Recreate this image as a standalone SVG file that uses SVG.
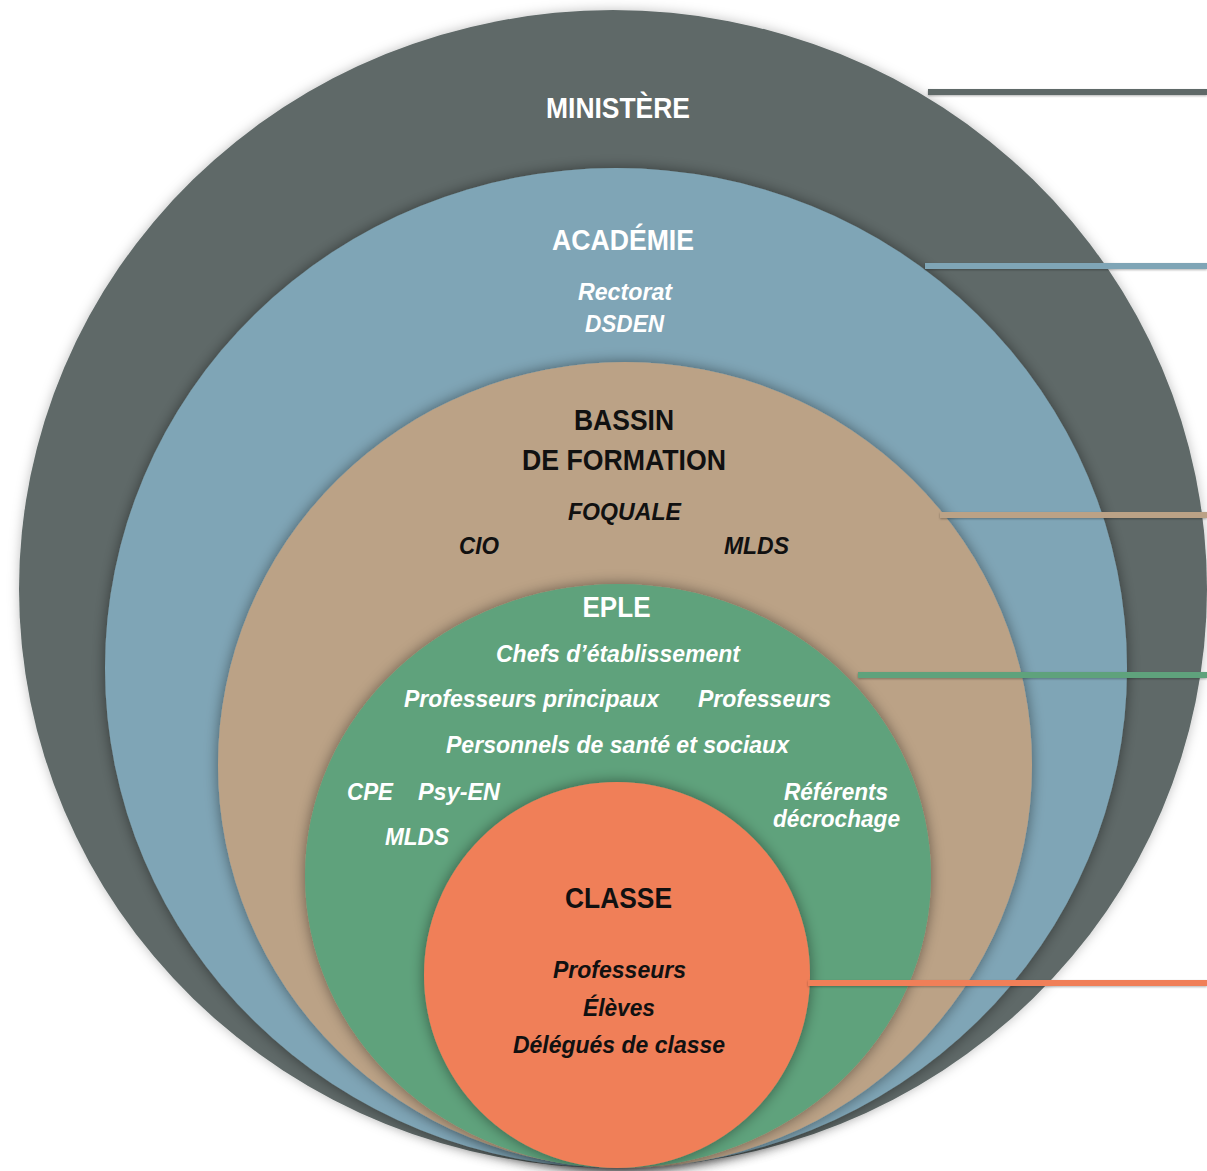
<svg xmlns="http://www.w3.org/2000/svg" width="1207" height="1171" viewBox="0 0 1207 1171">
<defs>
<filter id="sh" x="-10%" y="-10%" width="120%" height="120%">
<feDropShadow dx="0" dy="0" stdDeviation="7" flood-color="#000" flood-opacity="0.45"/>
</filter>
<filter id="sho" x="-10%" y="-10%" width="120%" height="120%">
<feDropShadow dx="0" dy="0" stdDeviation="6" flood-color="#000" flood-opacity="0.25"/>
</filter>
<filter id="shl" x="-5%" y="-100%" width="110%" height="400%">
<feDropShadow dx="0" dy="1" stdDeviation="1" flood-color="#000" flood-opacity="0.3"/>
</filter>
</defs>
<style>
text{font-family:"Liberation Sans Narrow","Liberation Sans",Arial,sans-serif;font-weight:bold;text-anchor:middle}
.t{font-size:29px}
.i{font-size:24px;font-style:italic}
.w{fill:#ffffff}
.d{fill:#111111}
.ln{stroke-width:6;fill:none}
</style>
<rect width="1207" height="1171" fill="#ffffff"/>
<g id="ministere">
<ellipse cx="613" cy="589" rx="594" ry="579" fill="#5f6968" filter="url(#sho)"/>
<text class="t w" x="618" y="118" textLength="144" lengthAdjust="spacingAndGlyphs">MINISTÈRE</text>
</g>
<g id="academie">
<ellipse cx="616" cy="668" rx="511" ry="500" fill="#7fa5b6" filter="url(#sh)"/>
<text class="t w" x="623" y="250" textLength="142" lengthAdjust="spacingAndGlyphs">ACADÉMIE</text>
<text class="i w" x="625" y="300" textLength="94" lengthAdjust="spacingAndGlyphs">Rectorat</text>
<text class="i w" x="624.5" y="332" textLength="79" lengthAdjust="spacingAndGlyphs">DSDEN</text>
</g>
<g id="bassin">
<ellipse cx="625" cy="765" rx="407" ry="403" fill="#bba286" filter="url(#sh)"/>
<text class="t d" x="624" y="430" textLength="100" lengthAdjust="spacingAndGlyphs">BASSIN</text>
<text class="t d" x="624" y="470" textLength="204" lengthAdjust="spacingAndGlyphs">DE FORMATION</text>
<text class="i d" x="624.5" y="520" textLength="113" lengthAdjust="spacingAndGlyphs">FOQUALE</text>
<text class="i d" x="479" y="554" textLength="40" lengthAdjust="spacingAndGlyphs">CIO</text>
<text class="i d" x="756.5" y="554" textLength="65" lengthAdjust="spacingAndGlyphs">MLDS</text>
</g>
<g id="eple">
<ellipse cx="618" cy="876" rx="313" ry="292" fill="#5fa27c" filter="url(#sh)"/>
<text class="t w" x="616.5" y="617" textLength="68" lengthAdjust="spacingAndGlyphs">EPLE</text>
<text class="i w" x="618" y="662" textLength="244" lengthAdjust="spacingAndGlyphs">Chefs d’établissement</text>
<text class="i w" x="531.5" y="707" textLength="255" lengthAdjust="spacingAndGlyphs">Professeurs principaux</text>
<text class="i w" x="764.5" y="707" textLength="133" lengthAdjust="spacingAndGlyphs">Professeurs</text>
<text class="i w" x="617.5" y="753" textLength="343" lengthAdjust="spacingAndGlyphs">Personnels de santé et sociaux</text>
<text class="i w" x="370" y="800" textLength="46" lengthAdjust="spacingAndGlyphs">CPE</text>
<text class="i w" x="459" y="800" textLength="82" lengthAdjust="spacingAndGlyphs">Psy-EN</text>
<text class="i w" x="417" y="845" textLength="64" lengthAdjust="spacingAndGlyphs">MLDS</text>
<text class="i w" x="836" y="800" textLength="104" lengthAdjust="spacingAndGlyphs">Référents</text>
<text class="i w" x="836.5" y="827" textLength="127" lengthAdjust="spacingAndGlyphs">décrochage</text>
</g>
<g id="classe">
<ellipse cx="617" cy="975" rx="193" ry="193" fill="#f07f58" filter="url(#sh)"/>
<text class="t d" x="618.5" y="908" textLength="107" lengthAdjust="spacingAndGlyphs">CLASSE</text>
<text class="i d" x="619.5" y="978" textLength="133" lengthAdjust="spacingAndGlyphs">Professeurs</text>
<text class="i d" x="619" y="1016" textLength="72" lengthAdjust="spacingAndGlyphs">Élèves</text>
<text class="i d" x="619" y="1053" textLength="212" lengthAdjust="spacingAndGlyphs">Délégués de classe</text>
</g>
<g id="connectors" filter="url(#shl)">
<line class="ln" x1="928" y1="92" x2="1207" y2="92" stroke="#5f6968"/>
<line class="ln" x1="925" y1="266" x2="1207" y2="266" stroke="#7fa5b6"/>
<line class="ln" x1="940" y1="515" x2="1207" y2="515" stroke="#bba286"/>
<line class="ln" x1="858" y1="675" x2="1207" y2="675" stroke="#5fa27c"/>
<line class="ln" x1="808" y1="983" x2="1207" y2="983" stroke="#f07f58"/>
</g>
</svg>
